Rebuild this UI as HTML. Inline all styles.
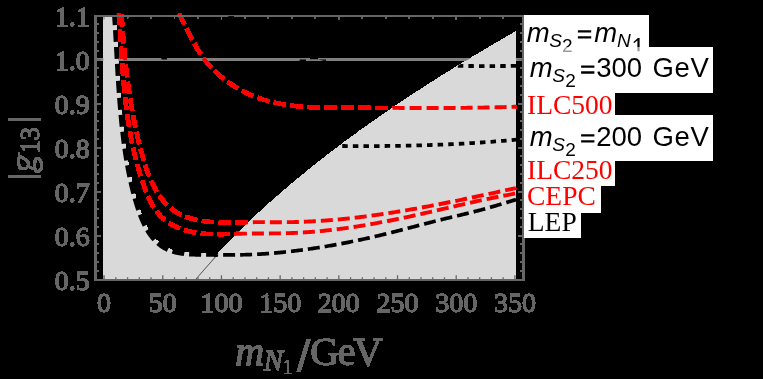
<!DOCTYPE html>
<html><head><meta charset="utf-8"><title>plot</title><style>html,body{margin:0;padding:0;background:#000;}svg{display:block;}text{white-space:pre;}</style></head><body>
<svg width="763" height="379" viewBox="0 0 763 379">
<rect width="763" height="379" fill="#000"/>
<defs><filter id="ad" filterUnits="userSpaceOnUse" x="0" y="0" width="763" height="379" color-interpolation-filters="sRGB"><feComponentTransfer><feFuncA type="linear" slope="80" intercept="-1.6"/></feComponentTransfer></filter><clipPath id="pc"><rect x="94" y="13" width="431" height="268"/></clipPath><clipPath id="rr"><path d="M195.11 279.93 L196.18 278.64 L197.25 277.35 L198.33 276.07 L199.40 274.80 L200.47 273.53 L201.55 272.27 L202.62 271.02 L203.69 269.78 L204.76 268.54 L205.84 267.31 L206.91 266.08 L207.98 264.86 L209.06 263.65 L210.13 262.44 L211.20 261.24 L212.28 260.05 L213.35 258.86 L214.42 257.68 L215.50 256.50 L216.57 255.33 L217.64 254.16 L218.72 253.00 L219.79 251.85 L220.86 250.70 L221.94 249.56 L223.01 248.42 L224.08 247.28 L225.15 246.16 L226.23 245.03 L227.30 243.91 L228.37 242.80 L229.45 241.69 L230.52 240.59 L231.59 239.49 L232.67 238.39 L233.74 237.30 L234.81 236.22 L235.89 235.13 L236.96 234.06 L238.03 232.98 L239.11 231.92 L240.18 230.85 L241.25 229.79 L242.33 228.74 L243.40 227.68 L244.47 226.64 L245.54 225.59 L246.62 224.55 L247.69 223.52 L248.76 222.48 L249.84 221.46 L250.91 220.43 L251.98 219.41 L253.06 218.39 L254.13 217.38 L255.20 216.37 L256.28 215.37 L257.35 214.36 L258.42 213.36 L259.50 212.37 L260.57 211.38 L261.64 210.39 L262.72 209.40 L263.79 208.42 L264.86 207.44 L265.93 206.47 L267.01 205.49 L268.08 204.52 L269.15 203.56 L270.23 202.60 L271.30 201.64 L272.37 200.68 L273.45 199.73 L274.52 198.78 L275.59 197.83 L276.67 196.88 L277.74 195.94 L278.81 195.00 L279.89 194.07 L280.96 193.14 L282.03 192.21 L283.11 191.28 L284.18 190.35 L285.25 189.43 L286.32 188.51 L287.40 187.60 L288.47 186.68 L289.54 185.77 L290.62 184.86 L291.69 183.96 L292.76 183.05 L293.84 182.15 L294.91 181.26 L295.98 180.36 L297.06 179.47 L298.13 178.58 L299.20 177.69 L300.28 176.80 L301.35 175.92 L302.42 175.04 L303.49 174.16 L304.57 173.28 L305.64 172.41 L306.71 171.54 L307.79 170.67 L308.86 169.80 L309.93 168.94 L311.01 168.08 L312.08 167.22 L313.15 166.36 L314.23 165.50 L315.30 164.65 L316.37 163.80 L317.45 162.95 L318.52 162.10 L319.59 161.26 L320.67 160.41 L321.74 159.57 L322.81 158.73 L323.88 157.90 L324.96 157.06 L326.03 156.23 L327.10 155.40 L328.18 154.57 L329.25 153.74 L330.32 152.92 L331.40 152.10 L332.47 151.28 L333.54 150.46 L334.62 149.64 L335.69 148.83 L336.76 148.01 L337.84 147.20 L338.91 146.39 L339.98 145.58 L341.06 144.78 L342.13 143.98 L343.20 143.17 L344.27 142.37 L345.35 141.57 L346.42 140.78 L347.49 139.98 L348.57 139.19 L349.64 138.40 L350.71 137.61 L351.79 136.82 L352.86 136.03 L353.93 135.25 L355.01 134.47 L356.08 133.69 L357.15 132.91 L358.23 132.13 L359.30 131.35 L360.37 130.58 L361.45 129.81 L362.52 129.03 L363.59 128.26 L364.66 127.50 L365.74 126.73 L366.81 125.96 L367.88 125.20 L368.96 124.44 L370.03 123.68 L371.10 122.92 L372.18 122.16 L373.25 121.41 L374.32 120.65 L375.40 119.90 L376.47 119.15 L377.54 118.40 L378.62 117.65 L379.69 116.90 L380.76 116.16 L381.84 115.41 L382.91 114.67 L383.98 113.93 L385.05 113.19 L386.13 112.45 L387.20 111.71 L388.27 110.98 L389.35 110.25 L390.42 109.51 L391.49 108.78 L392.57 108.05 L393.64 107.32 L394.71 106.60 L395.79 105.87 L396.86 105.14 L397.93 104.42 L399.01 103.70 L400.08 102.98 L401.15 102.26 L402.23 101.54 L403.30 100.82 L404.37 100.11 L405.44 99.40 L406.52 98.68 L407.59 97.97 L408.66 97.26 L409.74 96.55 L410.81 95.84 L411.88 95.14 L412.96 94.43 L414.03 93.73 L415.10 93.02 L416.18 92.32 L417.25 91.62 L418.32 90.92 L419.40 90.22 L420.47 89.53 L421.54 88.83 L422.62 88.14 L423.69 87.44 L424.76 86.75 L425.83 86.06 L426.91 85.37 L427.98 84.68 L429.05 83.99 L430.13 83.31 L431.20 82.62 L432.27 81.94 L433.35 81.25 L434.42 80.57 L435.49 79.89 L436.57 79.21 L437.64 78.53 L438.71 77.85 L439.79 77.18 L440.86 76.50 L441.93 75.83 L443.01 75.15 L444.08 74.48 L445.15 73.81 L446.22 73.14 L447.30 72.47 L448.37 71.80 L449.44 71.14 L450.52 70.47 L451.59 69.80 L452.66 69.14 L453.74 68.48 L454.81 67.82 L455.88 67.16 L456.96 66.50 L458.03 65.84 L459.10 65.18 L460.18 64.52 L461.25 63.87 L462.32 63.21 L463.40 62.56 L464.47 61.90 L465.54 61.25 L466.61 60.60 L467.69 59.95 L468.76 59.30 L469.83 58.65 L470.91 58.01 L471.98 57.36 L473.05 56.71 L474.13 56.07 L475.20 55.43 L476.27 54.78 L477.35 54.14 L478.42 53.50 L479.49 52.86 L480.57 52.22 L481.64 51.59 L482.71 50.95 L483.79 50.31 L484.86 49.68 L485.93 49.04 L487.00 48.41 L488.08 47.78 L489.15 47.14 L490.22 46.51 L491.30 45.88 L492.37 45.26 L493.44 44.63 L494.52 44.00 L495.59 43.37 L496.66 42.75 L497.74 42.12 L498.81 41.50 L499.88 40.88 L500.96 40.25 L502.03 39.63 L503.10 39.01 L504.17 38.39 L505.25 37.77 L506.32 37.16 L507.39 36.54 L508.47 35.92 L509.54 35.31 L510.61 34.69 L511.69 34.08 L512.76 33.46 L513.83 32.85 L514.91 32.24 L515.98 31.63 L516.00 280.00 L195.10 280.00Z"/></clipPath><clipPath id="nl"><rect x="90" y="0" width="127" height="300"/></clipPath></defs>
<g filter="url(#ad)">
<g clip-path="url(#pc)">
<rect x="95" y="58.5" width="428" height="2" fill="#808080"/>
<path d="M161.5 57.8h5.5v1.6h-5.5zM299.7 59.4h6.3v1.8h-6.3zM310 57.8h8v1.5h-8zM318 59.6l8 0v1.5z" fill="#000"/>
<path d="M114.18 15.40 L114.27 16.75 L114.36 18.10 L114.45 19.44 L114.53 20.79 L114.62 22.14 L114.70 23.49 L114.79 24.84 L114.87 26.18 L114.95 27.53 L115.04 28.88 L115.12 30.23 L115.20 31.58 L115.28 32.93 L115.35 34.29 L115.43 35.64 L115.51 36.99 L115.59 38.34 L115.67 39.69 L115.74 41.04 L115.82 42.40 L115.90 43.75 L115.97 45.10 L116.05 46.46 L116.12 47.81 L116.20 49.16 L116.27 50.52 L116.35 51.87 L116.42 53.22 L116.50 54.58 L116.57 55.93 L116.65 57.29 L116.73 58.64 L116.80 60.00 L116.88 61.35 L116.96 62.71 L117.03 64.06 L117.11 65.42 L117.19 66.77 L117.27 68.13 L117.35 69.48 L117.43 70.84 L117.51 72.19 L117.59 73.55 L117.67 74.90 L117.75 76.26 L117.84 77.61 L117.92 78.97 L118.00 80.32 L118.09 81.68 L118.18 83.03 L118.27 84.38 L118.35 85.74 L118.44 87.09 L118.54 88.45 L118.63 89.80 L118.72 91.16 L118.82 92.51 L118.91 93.86 L119.01 95.22 L119.11 96.57 L119.21 97.92 L119.31 99.27 L119.42 100.63 L119.52 101.98 L119.63 103.33 L119.74 104.68 L119.85 106.04 L119.96 107.39 L120.08 108.74 L120.19 110.09 L120.31 111.44 L120.43 112.79 L120.55 114.14 L120.67 115.49 L120.80 116.84 L120.93 118.19 L121.06 119.53 L121.19 120.88 L121.32 122.23 L121.46 123.58 L121.60 124.92 L121.74 126.27 L121.89 127.61 L122.03 128.96 L122.18 130.31 L122.33 131.65 L122.49 132.99 L122.64 134.34 L122.80 135.68 L122.96 137.02 L123.13 138.36 L123.30 139.71 L123.47 141.05 L123.64 142.39 L123.82 143.73 L124.00 145.07 L124.18 146.40 L124.36 147.74 L124.55 149.08 L124.75 150.42 L124.94 151.75 L125.14 153.09 L125.35 154.42 L125.55 155.76 L125.76 157.09 L125.98 158.42 L126.20 159.75 L126.42 161.09 L126.65 162.42 L126.88 163.75 L127.11 165.08 L127.35 166.40 L127.60 167.73 L127.84 169.06 L128.10 170.39 L128.35 171.71 L128.62 173.04 L128.88 174.36 L129.15 175.68 L129.43 177.00 L129.71 178.33 L130.00 179.65 L130.29 180.97 L130.59 182.29 L130.89 183.60 L131.20 184.92 L131.51 186.24 L131.83 187.55 L132.15 188.87 L132.48 190.18 L132.82 191.49 L133.16 192.80 L133.50 194.12 L133.86 195.43 L134.22 196.73 L134.58 198.04 L134.95 199.35 L135.33 200.65 L135.71 201.96 L136.10 203.26 L136.50 204.57 L136.90 205.87 L137.31 207.17 L137.73 208.47 L138.16 209.76 L138.60 211.05 L139.05 212.34 L139.51 213.63 L139.98 214.91 L140.46 216.18 L140.96 217.45 L141.47 218.72 L142.00 219.97 L142.55 221.23 L143.11 222.47 L143.68 223.71 L144.28 224.93 L144.89 226.15 L145.53 227.36 L146.18 228.56 L146.86 229.75 L147.55 230.93 L148.27 232.10 L149.02 233.25 L149.78 234.38 L150.57 235.49 L151.39 236.58 L152.23 237.65 L153.09 238.69 L153.99 239.70 L154.91 240.69 L155.86 241.65 L156.83 242.57 L157.83 243.46 L158.86 244.31 L159.92 245.14 L160.99 245.92 L162.09 246.67 L163.21 247.38 L164.35 248.06 L165.51 248.70 L166.69 249.29 L167.89 249.85 L169.10 250.36 L170.33 250.84 L171.58 251.28 L172.84 251.68 L174.11 252.05 L175.39 252.38 L176.69 252.69 L178.00 252.96 L179.32 253.21 L180.65 253.43 L181.99 253.62 L183.34 253.79 L184.69 253.94 L186.05 254.07 L187.42 254.18 L188.79 254.27 L190.17 254.35 L191.55 254.42 L192.93 254.47 L194.32 254.51 L195.71 254.55 L197.10 254.57 L198.49 254.59 L199.88 254.61 L201.26 254.63 L202.65 254.64 L204.03 254.65 L205.41 254.67 L206.78 254.69 L208.16 254.70 L209.53 254.72 L210.90 254.74 L212.26 254.75 L213.63 254.77 L214.99 254.79 L216.35 254.80" fill="none" stroke="#d9d9d9" stroke-width="3" stroke-linejoin="round"/>
<path d="M103.40 15.00 L114.18 15.40 L114.27 16.75 L114.36 18.10 L114.45 19.44 L114.53 20.79 L114.62 22.14 L114.70 23.49 L114.79 24.84 L114.87 26.18 L114.95 27.53 L115.04 28.88 L115.12 30.23 L115.20 31.58 L115.28 32.93 L115.35 34.29 L115.43 35.64 L115.51 36.99 L115.59 38.34 L115.67 39.69 L115.74 41.04 L115.82 42.40 L115.90 43.75 L115.97 45.10 L116.05 46.46 L116.12 47.81 L116.20 49.16 L116.27 50.52 L116.35 51.87 L116.42 53.22 L116.50 54.58 L116.57 55.93 L116.65 57.29 L116.73 58.64 L116.80 60.00 L116.88 61.35 L116.96 62.71 L117.03 64.06 L117.11 65.42 L117.19 66.77 L117.27 68.13 L117.35 69.48 L117.43 70.84 L117.51 72.19 L117.59 73.55 L117.67 74.90 L117.75 76.26 L117.84 77.61 L117.92 78.97 L118.00 80.32 L118.09 81.68 L118.18 83.03 L118.27 84.38 L118.35 85.74 L118.44 87.09 L118.54 88.45 L118.63 89.80 L118.72 91.16 L118.82 92.51 L118.91 93.86 L119.01 95.22 L119.11 96.57 L119.21 97.92 L119.31 99.27 L119.42 100.63 L119.52 101.98 L119.63 103.33 L119.74 104.68 L119.85 106.04 L119.96 107.39 L120.08 108.74 L120.19 110.09 L120.31 111.44 L120.43 112.79 L120.55 114.14 L120.67 115.49 L120.80 116.84 L120.93 118.19 L121.06 119.53 L121.19 120.88 L121.32 122.23 L121.46 123.58 L121.60 124.92 L121.74 126.27 L121.89 127.61 L122.03 128.96 L122.18 130.31 L122.33 131.65 L122.49 132.99 L122.64 134.34 L122.80 135.68 L122.96 137.02 L123.13 138.36 L123.30 139.71 L123.47 141.05 L123.64 142.39 L123.82 143.73 L124.00 145.07 L124.18 146.40 L124.36 147.74 L124.55 149.08 L124.75 150.42 L124.94 151.75 L125.14 153.09 L125.35 154.42 L125.55 155.76 L125.76 157.09 L125.98 158.42 L126.20 159.75 L126.42 161.09 L126.65 162.42 L126.88 163.75 L127.11 165.08 L127.35 166.40 L127.60 167.73 L127.84 169.06 L128.10 170.39 L128.35 171.71 L128.62 173.04 L128.88 174.36 L129.15 175.68 L129.43 177.00 L129.71 178.33 L130.00 179.65 L130.29 180.97 L130.59 182.29 L130.89 183.60 L131.20 184.92 L131.51 186.24 L131.83 187.55 L132.15 188.87 L132.48 190.18 L132.82 191.49 L133.16 192.80 L133.50 194.12 L133.86 195.43 L134.22 196.73 L134.58 198.04 L134.95 199.35 L135.33 200.65 L135.71 201.96 L136.10 203.26 L136.50 204.57 L136.90 205.87 L137.31 207.17 L137.73 208.47 L138.16 209.76 L138.60 211.05 L139.05 212.34 L139.51 213.63 L139.98 214.91 L140.46 216.18 L140.96 217.45 L141.47 218.72 L142.00 219.97 L142.55 221.23 L143.11 222.47 L143.68 223.71 L144.28 224.93 L144.89 226.15 L145.53 227.36 L146.18 228.56 L146.86 229.75 L147.55 230.93 L148.27 232.10 L149.02 233.25 L149.78 234.38 L150.57 235.49 L151.39 236.58 L152.23 237.65 L153.09 238.69 L153.99 239.70 L154.91 240.69 L155.86 241.65 L156.83 242.57 L157.83 243.46 L158.86 244.31 L159.92 245.14 L160.99 245.92 L162.09 246.67 L163.21 247.38 L164.35 248.06 L165.51 248.70 L166.69 249.29 L167.89 249.85 L169.10 250.36 L170.33 250.84 L171.58 251.28 L172.84 251.68 L174.11 252.05 L175.39 252.38 L176.69 252.69 L178.00 252.96 L179.32 253.21 L180.65 253.43 L181.99 253.62 L183.34 253.79 L184.69 253.94 L186.05 254.07 L187.42 254.18 L188.79 254.27 L190.17 254.35 L191.55 254.42 L192.93 254.47 L194.32 254.51 L195.71 254.55 L197.10 254.57 L198.49 254.59 L199.88 254.61 L201.26 254.63 L202.65 254.64 L204.03 254.65 L205.41 254.67 L206.78 254.69 L208.16 254.70 L209.53 254.72 L210.90 254.74 L212.26 254.75 L213.63 254.77 L214.99 254.79 L216.35 254.80 L195.10 280.00 L103.40 280.00Z" fill="#d9d9d9"/>
<path d="M195.11 279.93 L196.18 278.64 L197.25 277.35 L198.33 276.07 L199.40 274.80 L200.47 273.53 L201.55 272.27 L202.62 271.02 L203.69 269.78 L204.76 268.54 L205.84 267.31 L206.91 266.08 L207.98 264.86 L209.06 263.65 L210.13 262.44 L211.20 261.24 L212.28 260.05 L213.35 258.86 L214.42 257.68 L215.50 256.50 L216.57 255.33 L217.64 254.16 L218.72 253.00 L219.79 251.85 L220.86 250.70 L221.94 249.56 L223.01 248.42 L224.08 247.28 L225.15 246.16 L226.23 245.03 L227.30 243.91 L228.37 242.80 L229.45 241.69 L230.52 240.59 L231.59 239.49 L232.67 238.39 L233.74 237.30 L234.81 236.22 L235.89 235.13 L236.96 234.06 L238.03 232.98 L239.11 231.92 L240.18 230.85 L241.25 229.79 L242.33 228.74 L243.40 227.68 L244.47 226.64 L245.54 225.59 L246.62 224.55 L247.69 223.52 L248.76 222.48 L249.84 221.46 L250.91 220.43 L251.98 219.41 L253.06 218.39 L254.13 217.38 L255.20 216.37 L256.28 215.37 L257.35 214.36 L258.42 213.36 L259.50 212.37 L260.57 211.38 L261.64 210.39 L262.72 209.40 L263.79 208.42 L264.86 207.44 L265.93 206.47 L267.01 205.49 L268.08 204.52 L269.15 203.56 L270.23 202.60 L271.30 201.64 L272.37 200.68 L273.45 199.73 L274.52 198.78 L275.59 197.83 L276.67 196.88 L277.74 195.94 L278.81 195.00 L279.89 194.07 L280.96 193.14 L282.03 192.21 L283.11 191.28 L284.18 190.35 L285.25 189.43 L286.32 188.51 L287.40 187.60 L288.47 186.68 L289.54 185.77 L290.62 184.86 L291.69 183.96 L292.76 183.05 L293.84 182.15 L294.91 181.26 L295.98 180.36 L297.06 179.47 L298.13 178.58 L299.20 177.69 L300.28 176.80 L301.35 175.92 L302.42 175.04 L303.49 174.16 L304.57 173.28 L305.64 172.41 L306.71 171.54 L307.79 170.67 L308.86 169.80 L309.93 168.94 L311.01 168.08 L312.08 167.22 L313.15 166.36 L314.23 165.50 L315.30 164.65 L316.37 163.80 L317.45 162.95 L318.52 162.10 L319.59 161.26 L320.67 160.41 L321.74 159.57 L322.81 158.73 L323.88 157.90 L324.96 157.06 L326.03 156.23 L327.10 155.40 L328.18 154.57 L329.25 153.74 L330.32 152.92 L331.40 152.10 L332.47 151.28 L333.54 150.46 L334.62 149.64 L335.69 148.83 L336.76 148.01 L337.84 147.20 L338.91 146.39 L339.98 145.58 L341.06 144.78 L342.13 143.98 L343.20 143.17 L344.27 142.37 L345.35 141.57 L346.42 140.78 L347.49 139.98 L348.57 139.19 L349.64 138.40 L350.71 137.61 L351.79 136.82 L352.86 136.03 L353.93 135.25 L355.01 134.47 L356.08 133.69 L357.15 132.91 L358.23 132.13 L359.30 131.35 L360.37 130.58 L361.45 129.81 L362.52 129.03 L363.59 128.26 L364.66 127.50 L365.74 126.73 L366.81 125.96 L367.88 125.20 L368.96 124.44 L370.03 123.68 L371.10 122.92 L372.18 122.16 L373.25 121.41 L374.32 120.65 L375.40 119.90 L376.47 119.15 L377.54 118.40 L378.62 117.65 L379.69 116.90 L380.76 116.16 L381.84 115.41 L382.91 114.67 L383.98 113.93 L385.05 113.19 L386.13 112.45 L387.20 111.71 L388.27 110.98 L389.35 110.25 L390.42 109.51 L391.49 108.78 L392.57 108.05 L393.64 107.32 L394.71 106.60 L395.79 105.87 L396.86 105.14 L397.93 104.42 L399.01 103.70 L400.08 102.98 L401.15 102.26 L402.23 101.54 L403.30 100.82 L404.37 100.11 L405.44 99.40 L406.52 98.68 L407.59 97.97 L408.66 97.26 L409.74 96.55 L410.81 95.84 L411.88 95.14 L412.96 94.43 L414.03 93.73 L415.10 93.02 L416.18 92.32 L417.25 91.62 L418.32 90.92 L419.40 90.22 L420.47 89.53 L421.54 88.83 L422.62 88.14 L423.69 87.44 L424.76 86.75 L425.83 86.06 L426.91 85.37 L427.98 84.68 L429.05 83.99 L430.13 83.31 L431.20 82.62 L432.27 81.94 L433.35 81.25 L434.42 80.57 L435.49 79.89 L436.57 79.21 L437.64 78.53 L438.71 77.85 L439.79 77.18 L440.86 76.50 L441.93 75.83 L443.01 75.15 L444.08 74.48 L445.15 73.81 L446.22 73.14 L447.30 72.47 L448.37 71.80 L449.44 71.14 L450.52 70.47 L451.59 69.80 L452.66 69.14 L453.74 68.48 L454.81 67.82 L455.88 67.16 L456.96 66.50 L458.03 65.84 L459.10 65.18 L460.18 64.52 L461.25 63.87 L462.32 63.21 L463.40 62.56 L464.47 61.90 L465.54 61.25 L466.61 60.60 L467.69 59.95 L468.76 59.30 L469.83 58.65 L470.91 58.01 L471.98 57.36 L473.05 56.71 L474.13 56.07 L475.20 55.43 L476.27 54.78 L477.35 54.14 L478.42 53.50 L479.49 52.86 L480.57 52.22 L481.64 51.59 L482.71 50.95 L483.79 50.31 L484.86 49.68 L485.93 49.04 L487.00 48.41 L488.08 47.78 L489.15 47.14 L490.22 46.51 L491.30 45.88 L492.37 45.26 L493.44 44.63 L494.52 44.00 L495.59 43.37 L496.66 42.75 L497.74 42.12 L498.81 41.50 L499.88 40.88 L500.96 40.25 L502.03 39.63 L503.10 39.01 L504.17 38.39 L505.25 37.77 L506.32 37.16 L507.39 36.54 L508.47 35.92 L509.54 35.31 L510.61 34.69 L511.69 34.08 L512.76 33.46 L513.83 32.85 L514.91 32.24 L515.98 31.63 L516.00 280.00 L195.10 280.00Z" fill="#d9d9d9"/>
<line x1="195.1" y1="280" x2="216.2" y2="256.1" stroke="#4a4a4a" stroke-width="0.9"/>
<path d="M177.60 10.03 L177.97 10.77 L178.33 11.52 L178.70 12.26 L179.07 13.01 L179.43 13.76 L179.80 14.52 L180.16 15.27 L180.53 16.03 L180.89 16.78 L181.25 17.54 L181.62 18.31 L181.98 19.07 L182.35 19.83 L182.71 20.60 L183.08 21.36 L183.44 22.13 L183.81 22.90 L184.17 23.67 L184.54 24.44 L184.91 25.21 L185.28 25.98 L185.65 26.75 L186.02 27.52 L186.39 28.29 L186.76 29.06 L187.14 29.83 L187.52 30.60 L187.89 31.37 L188.27 32.14 L188.66 32.91 L189.04 33.68 L189.42 34.44 L189.81 35.21 L190.20 35.98 L190.59 36.74 L190.99 37.51 L191.39 38.27 L191.78 39.03 L192.19 39.79 L192.59 40.55 L193.00 41.30 L193.41 42.06 L193.82 42.81 L194.24 43.56 L194.66 44.31 L195.09 45.05 L195.51 45.80 L195.94 46.54 L196.38 47.28 L196.82 48.01 L197.26 48.75 L197.70 49.48 L198.15 50.20 L198.61 50.93 L199.07 51.65 L199.53 52.37 L200.00 53.08 L200.47 53.79 L200.94 54.50 L201.42 55.20 L201.91 55.90 L202.40 56.60 L202.90 57.29 L203.40 57.98 L203.90 58.66 L204.41 59.34 L204.93 60.02 L205.45 60.69 L205.98 61.35 L206.51 62.01 L207.05 62.67 L207.59 63.32 L208.14 63.97 L208.70 64.61 L209.26 65.25 L209.82 65.88 L210.39 66.51 L210.96 67.13 L211.54 67.75 L212.13 68.37 L212.72 68.98 L213.31 69.58 L213.91 70.18 L214.51 70.78 L215.12 71.37 L215.73 71.95 L216.35 72.54 L216.97 73.11 L217.60 73.68 L218.23 74.25 L218.87 74.81 L219.51 75.37 L220.15 75.92 L220.80 76.47 L221.45 77.01 L222.11 77.55 L222.77 78.09 L223.43 78.62 L224.10 79.14 L224.77 79.66 L225.45 80.17 L226.13 80.68 L226.81 81.19 L227.50 81.69 L228.19 82.18 L228.88 82.67 L229.58 83.15 L230.28 83.63 L230.99 84.11 L231.70 84.58 L232.41 85.04 L233.12 85.50 L233.84 85.96 L234.56 86.41 L235.29 86.85 L236.02 87.30 L236.75 87.73 L237.48 88.16 L238.22 88.59 L238.96 89.01 L239.70 89.42 L240.45 89.83 L241.20 90.24 L241.95 90.64 L242.70 91.03 L243.46 91.42 L244.22 91.81 L244.98 92.19 L245.75 92.56 L246.51 92.93 L247.28 93.30 L248.05 93.66 L248.83 94.01 L249.60 94.36 L250.38 94.70 L251.16 95.04 L251.94 95.38 L252.73 95.71 L253.51 96.03 L254.30 96.35 L255.09 96.66 L255.88 96.97 L256.68 97.27 L257.47 97.57 L258.27 97.86 L259.07 98.15 L259.87 98.43 L260.67 98.71 L261.47 98.98 L262.28 99.24 L263.08 99.51 L263.89 99.76 L264.70 100.01 L265.51 100.26 L266.32 100.50 L267.13 100.73 L267.94 100.96 L268.76 101.19 L269.57 101.41 L270.39 101.62 L271.21 101.83 L272.03 102.04 L272.85 102.24 L273.67 102.43 L274.49 102.62 L275.32 102.81 L276.14 102.99 L276.97 103.17 L277.79 103.34 L278.62 103.51 L279.45 103.68 L280.28 103.84 L281.11 103.99 L281.94 104.15 L282.78 104.29 L283.61 104.44 L284.44 104.58 L285.28 104.71 L286.12 104.85 L286.95 104.97 L287.79 105.10 L288.63 105.22 L289.47 105.34 L290.31 105.45 L291.15 105.56 L291.99 105.67 L292.83 105.77 L293.68 105.87 L294.52 105.97 L295.37 106.06 L296.21 106.15 L297.06 106.24 L297.91 106.32 L298.75 106.40 L299.60 106.48 L300.45 106.56 L301.30 106.63 L302.15 106.70 L303.00 106.77 L303.85 106.83 L304.70 106.89 L305.55 106.95 L306.40 107.01 L307.26 107.06 L308.11 107.11 L308.97 107.16 L309.82 107.21 L310.67 107.25 L311.53 107.29 L312.38 107.33 L313.24 107.37 L314.10 107.41 L314.95 107.44 L315.81 107.47 L316.67 107.50 L317.52 107.53 L318.38 107.56 L319.24 107.58 L320.10 107.60 L320.96 107.63 L321.82 107.65 L322.67 107.66 L323.53 107.68 L324.39 107.70 L325.25 107.71 L326.11 107.72 L326.97 107.74 L327.83 107.75 L328.69 107.76 L329.55 107.76 L330.41 107.77 L331.27 107.78 L332.13 107.78 L332.99 107.79 L333.85 107.79 L334.71 107.80 L335.57 107.80 L336.43 107.80 L337.29 107.80 L338.15 107.80 L339.01 107.80 L339.87 107.80 L340.73 107.80 L341.59 107.80 L342.45 107.80 L343.31 107.80 L344.17 107.80 L345.03 107.80 L345.89 107.80 L346.74 107.80 L347.60 107.79 L348.46 107.79 L349.32 107.79 L350.18 107.79 L351.03 107.79 L351.89 107.79 L352.75 107.79 L353.60 107.79 L354.46 107.79 L355.31 107.79 L356.17 107.79 L357.02 107.79 L357.88 107.79 L358.73 107.79 L359.59 107.80 L360.44 107.80 L361.30 107.80 L362.15 107.80 L363.01 107.80 L363.86 107.80 L364.71 107.80 L365.57 107.81 L366.42 107.81 L367.27 107.81 L368.12 107.81 L368.98 107.81 L369.83 107.82 L370.68 107.82 L371.53 107.82 L372.38 107.82 L373.23 107.83 L374.09 107.83 L374.94 107.83 L375.79 107.83 L376.64 107.84 L377.49 107.84 L378.34 107.84 L379.19 107.85 L380.04 107.85 L380.89 107.85 L381.74 107.86 L382.59 107.86 L383.44 107.86 L384.29 107.87 L385.14 107.87 L385.99 107.87 L386.83 107.87 L387.68 107.88 L388.53 107.88 L389.38 107.89 L390.23 107.89 L391.08 107.89 L391.93 107.90 L392.77 107.90 L393.62 107.90 L394.47 107.91 L395.32 107.91 L396.16 107.91 L397.01 107.92 L397.86 107.92 L398.71 107.92 L399.55 107.93 L400.40 107.93 L401.25 107.93 L402.10 107.94 L402.94 107.94 L403.79 107.94 L404.64 107.94 L405.48 107.95 L406.33 107.95 L407.18 107.95 L408.02 107.96 L408.87 107.96 L409.72 107.96 L410.56 107.96 L411.41 107.97 L412.25 107.97 L413.10 107.97 L413.95 107.97 L414.79 107.98 L415.64 107.98 L416.48 107.98 L417.33 107.98 L418.18 107.99 L419.02 107.99 L419.87 107.99 L420.72 107.99 L421.56 107.99 L422.41 107.99 L423.25 107.99 L424.10 108.00 L424.94 108.00 L425.79 108.00 L426.64 108.00 L427.48 108.00 L428.33 108.00 L429.17 108.00 L430.02 108.00 L430.87 108.00 L431.71 108.00 L432.56 108.00 L433.41 108.00 L434.25 108.00 L435.10 108.00 L435.94 108.00 L436.79 108.00 L437.64 107.99 L438.48 107.99 L439.33 107.99 L440.18 107.99 L441.02 107.99 L441.87 107.99 L442.72 107.98 L443.56 107.98 L444.41 107.98 L445.26 107.98 L446.10 107.97 L446.95 107.97 L447.80 107.97 L448.64 107.96 L449.49 107.96 L450.34 107.95 L451.19 107.95 L452.03 107.94 L452.88 107.94 L453.73 107.93 L454.58 107.93 L455.42 107.92 L456.27 107.92 L457.12 107.91 L457.97 107.91 L458.82 107.90 L459.67 107.89 L460.52 107.88 L461.36 107.88 L462.21 107.87 L463.06 107.86 L463.91 107.85 L464.76 107.85 L465.61 107.84 L466.46 107.83 L467.31 107.82 L468.16 107.81 L469.01 107.80 L469.86 107.79 L470.71 107.78 L471.56 107.77 L472.41 107.76 L473.26 107.75 L474.11 107.73 L474.96 107.72 L475.82 107.71 L476.67 107.70 L477.52 107.68 L478.37 107.67 L479.22 107.66 L480.08 107.64 L480.93 107.63 L481.78 107.61 L482.63 107.60 L483.49 107.58 L484.34 107.57 L485.19 107.55 L486.05 107.54 L486.90 107.52 L487.76 107.50 L488.61 107.48 L489.46 107.47 L490.32 107.45 L491.17 107.43 L492.03 107.41 L492.89 107.39 L493.74 107.37 L494.60 107.35 L495.45 107.33 L496.31 107.31 L497.17 107.29 L498.02 107.27 L498.88 107.24 L499.74 107.22 L500.60 107.20 L501.45 107.18 L502.31 107.15 L503.17 107.13 L504.03 107.10 L504.89 107.08 L505.75 107.05 L506.61 107.03 L507.47 107.00 L508.33 106.97 L509.19 106.95 L510.05 106.92 L510.91 106.89 L511.77 106.86 L512.64 106.83 L513.50 106.80 L514.36 106.77 L515.22 106.74 L516.09 106.71" fill="none" stroke="#ff0000" stroke-width="3.9" stroke-dasharray="12.00 5.00" stroke-dashoffset="13.28"/>
<path d="M118.58 10.02 L118.67 11.29 L118.76 12.57 L118.84 13.84 L118.93 15.12 L119.02 16.39 L119.11 17.67 L119.19 18.94 L119.28 20.22 L119.36 21.49 L119.45 22.77 L119.53 24.05 L119.61 25.33 L119.69 26.61 L119.78 27.88 L119.86 29.16 L119.94 30.44 L120.02 31.72 L120.10 33.00 L120.18 34.28 L120.26 35.56 L120.34 36.85 L120.42 38.13 L120.51 39.41 L120.59 40.69 L120.67 41.97 L120.75 43.26 L120.83 44.54 L120.91 45.82 L120.99 47.10 L121.08 48.39 L121.16 49.67 L121.25 50.95 L121.33 52.24 L121.41 53.52 L121.50 54.80 L121.59 56.09 L121.67 57.37 L121.76 58.66 L121.85 59.94 L121.94 61.22 L122.03 62.51 L122.13 63.79 L122.22 65.07 L122.31 66.36 L122.41 67.64 L122.51 68.93 L122.60 70.21 L122.70 71.49 L122.81 72.78 L122.91 74.06 L123.01 75.34 L123.12 76.63 L123.23 77.91 L123.33 79.19 L123.45 80.47 L123.56 81.76 L123.67 83.04 L123.79 84.32 L123.91 85.60 L124.03 86.88 L124.15 88.17 L124.27 89.45 L124.40 90.73 L124.53 92.01 L124.66 93.29 L124.79 94.57 L124.93 95.85 L125.07 97.12 L125.21 98.40 L125.35 99.68 L125.49 100.96 L125.64 102.24 L125.79 103.51 L125.95 104.79 L126.10 106.06 L126.26 107.34 L126.42 108.61 L126.59 109.89 L126.76 111.16 L126.93 112.44 L127.10 113.71 L127.28 114.98 L127.46 116.25 L127.64 117.52 L127.83 118.79 L128.02 120.06 L128.21 121.33 L128.41 122.60 L128.61 123.87 L128.81 125.13 L129.02 126.40 L129.23 127.67 L129.44 128.93 L129.66 130.20 L129.88 131.46 L130.11 132.72 L130.34 133.98 L130.57 135.24 L130.81 136.50 L131.05 137.76 L131.30 139.02 L131.55 140.28 L131.80 141.54 L132.06 142.79 L132.32 144.05 L132.59 145.30 L132.86 146.56 L133.14 147.81 L133.42 149.06 L133.71 150.31 L134.00 151.56 L134.29 152.81 L134.59 154.06 L134.89 155.30 L135.20 156.55 L135.51 157.79 L135.83 159.03 L136.15 160.28 L136.48 161.52 L136.81 162.75 L137.15 163.99 L137.49 165.23 L137.84 166.46 L138.19 167.70 L138.55 168.93 L138.91 170.16 L139.27 171.39 L139.64 172.61 L140.02 173.84 L140.40 175.06 L140.78 176.28 L141.17 177.50 L141.56 178.72 L141.96 179.93 L142.37 181.14 L142.77 182.35 L143.19 183.56 L143.60 184.77 L144.03 185.97 L144.46 187.18 L144.89 188.38 L145.34 189.58 L145.79 190.79 L146.26 192.00 L146.74 193.20 L147.24 194.41 L147.75 195.61 L148.27 196.81 L148.80 198.01 L149.35 199.20 L149.92 200.38 L150.51 201.55 L151.11 202.71 L151.72 203.86 L152.36 205.00 L153.02 206.12 L153.69 207.23 L154.39 208.32 L155.10 209.40 L155.84 210.46 L156.60 211.49 L157.38 212.51 L158.19 213.50 L159.01 214.47 L159.87 215.41 L160.74 216.33 L161.65 217.22 L162.57 218.09 L163.52 218.92 L164.50 219.73 L165.49 220.52 L166.51 221.28 L167.55 222.01 L168.60 222.72 L169.68 223.40 L170.77 224.06 L171.88 224.69 L173.00 225.30 L174.14 225.89 L175.29 226.45 L176.46 226.99 L177.64 227.51 L178.83 228.00 L180.03 228.48 L181.24 228.93 L182.46 229.35 L183.68 229.76 L184.92 230.15 L186.16 230.51 L187.40 230.86 L188.65 231.18 L189.90 231.49 L191.16 231.77 L192.42 232.04 L193.68 232.28 L194.94 232.51 L196.20 232.72 L197.47 232.92 L198.73 233.10 L200.00 233.26 L201.27 233.41 L202.55 233.54 L203.82 233.66 L205.10 233.77 L206.37 233.86 L207.65 233.94 L208.93 234.01 L210.21 234.07 L211.49 234.12 L212.78 234.16 L214.06 234.19 L215.34 234.21 L216.63 234.22 L217.92 234.22 L219.20 234.22 L220.49 234.21 L221.78 234.20 L223.07 234.18 L224.36 234.16 L225.65 234.13 L226.94 234.10 L228.23 234.06 L229.52 234.03 L230.81 233.99 L232.11 233.95 L233.40 233.91 L234.69 233.87 L235.98 233.83 L237.27 233.79 L238.56 233.75 L239.85 233.72 L241.14 233.69 L242.43 233.66 L243.72 233.64 L245.01 233.61 L246.30 233.59 L247.59 233.57 L248.88 233.56 L250.16 233.54 L251.45 233.53 L252.74 233.52 L254.03 233.51 L255.31 233.50 L256.60 233.49 L257.88 233.48 L259.17 233.48 L260.45 233.47 L261.74 233.47 L263.02 233.46 L264.31 233.46 L265.59 233.45 L266.88 233.45 L268.16 233.44 L269.44 233.43 L270.73 233.42 L272.01 233.42 L273.29 233.40 L274.58 233.39 L275.86 233.38 L277.14 233.37 L278.42 233.35 L279.71 233.33 L280.99 233.31 L282.27 233.29 L283.55 233.26 L284.83 233.23 L286.11 233.20 L287.39 233.17 L288.67 233.13 L289.95 233.09 L291.23 233.04 L292.51 232.99 L293.80 232.94 L295.08 232.89 L296.36 232.83 L297.63 232.76 L298.91 232.70 L300.19 232.63 L301.47 232.56 L302.75 232.48 L304.03 232.40 L305.31 232.32 L306.59 232.23 L307.87 232.14 L309.15 232.05 L310.42 231.95 L311.70 231.85 L312.98 231.75 L314.26 231.65 L315.53 231.54 L316.81 231.43 L318.09 231.31 L319.37 231.19 L320.64 231.07 L321.92 230.95 L323.20 230.82 L324.47 230.69 L325.75 230.56 L327.02 230.43 L328.30 230.29 L329.57 230.15 L330.85 230.00 L332.12 229.85 L333.40 229.71 L334.67 229.55 L335.95 229.40 L337.22 229.24 L338.49 229.08 L339.77 228.92 L341.04 228.75 L342.31 228.58 L343.59 228.41 L344.86 228.24 L346.13 228.06 L347.40 227.88 L348.67 227.70 L349.95 227.52 L351.22 227.33 L352.49 227.14 L353.76 226.95 L355.03 226.76 L356.30 226.56 L357.57 226.37 L358.84 226.17 L360.11 225.96 L361.38 225.76 L362.64 225.55 L363.91 225.34 L365.18 225.13 L366.45 224.92 L367.72 224.70 L368.98 224.49 L370.25 224.27 L371.52 224.04 L372.78 223.82 L374.05 223.60 L375.31 223.37 L376.58 223.14 L377.84 222.91 L379.11 222.67 L380.37 222.44 L381.64 222.20 L382.90 221.96 L384.16 221.72 L385.43 221.48 L386.69 221.24 L387.95 220.99 L389.21 220.74 L390.47 220.49 L391.73 220.24 L393.00 219.99 L394.26 219.74 L395.52 219.48 L396.78 219.22 L398.03 218.96 L399.29 218.70 L400.55 218.44 L401.81 218.18 L403.07 217.91 L404.33 217.65 L405.58 217.38 L406.84 217.11 L408.09 216.84 L409.35 216.57 L410.61 216.30 L411.86 216.02 L413.12 215.75 L414.37 215.47 L415.62 215.20 L416.88 214.92 L418.13 214.64 L419.38 214.36 L420.64 214.08 L421.89 213.80 L423.14 213.51 L424.39 213.23 L425.64 212.95 L426.90 212.66 L428.15 212.38 L429.40 212.09 L430.65 211.80 L431.90 211.52 L433.15 211.23 L434.40 210.94 L435.65 210.65 L436.90 210.36 L438.15 210.07 L439.40 209.79 L440.65 209.50 L441.90 209.21 L443.15 208.92 L444.40 208.63 L445.65 208.34 L446.90 208.05 L448.15 207.76 L449.40 207.47 L450.65 207.18 L451.90 206.89 L453.15 206.60 L454.40 206.31 L455.65 206.03 L456.90 205.74 L458.15 205.45 L459.40 205.16 L460.65 204.88 L461.90 204.59 L463.15 204.31 L464.40 204.02 L465.65 203.74 L466.90 203.45 L468.15 203.17 L469.41 202.89 L470.66 202.61 L471.91 202.33 L473.16 202.05 L474.42 201.77 L475.67 201.50 L476.92 201.22 L478.18 200.95 L479.43 200.68 L480.68 200.40 L481.94 200.13 L483.19 199.86 L484.45 199.60 L485.70 199.33 L486.96 199.06 L488.22 198.80 L489.47 198.54 L490.73 198.28 L491.99 198.02 L493.25 197.76 L494.51 197.51 L495.77 197.26 L497.03 197.00 L498.29 196.75 L499.55 196.51 L500.81 196.26 L502.07 196.02 L503.34 195.77 L504.60 195.53 L505.86 195.30 L507.13 195.06 L508.39 194.83 L509.66 194.60 L510.92 194.37 L512.19 194.14 L513.46 193.92 L514.73 193.70 L516.00 193.48" fill="none" stroke="#ff0000" stroke-width="3.9" stroke-dasharray="12.00 5.00" stroke-dashoffset="14.15"/>
<path d="M121.40 10.01 L121.47 11.25 L121.54 12.49 L121.61 13.73 L121.68 14.97 L121.76 16.21 L121.83 17.45 L121.90 18.70 L121.98 19.94 L122.06 21.18 L122.14 22.42 L122.22 23.66 L122.30 24.90 L122.38 26.15 L122.47 27.39 L122.55 28.63 L122.64 29.87 L122.73 31.11 L122.82 32.36 L122.91 33.60 L123.00 34.84 L123.10 36.08 L123.19 37.32 L123.29 38.56 L123.39 39.81 L123.49 41.05 L123.59 42.29 L123.70 43.53 L123.80 44.77 L123.91 46.01 L124.02 47.25 L124.13 48.49 L124.24 49.74 L124.35 50.98 L124.47 52.22 L124.59 53.46 L124.70 54.70 L124.83 55.94 L124.95 57.18 L125.07 58.42 L125.20 59.66 L125.33 60.90 L125.46 62.14 L125.59 63.37 L125.72 64.61 L125.86 65.85 L125.99 67.09 L126.13 68.33 L126.27 69.57 L126.42 70.80 L126.56 72.04 L126.71 73.28 L126.86 74.52 L127.01 75.75 L127.17 76.99 L127.32 78.22 L127.48 79.46 L127.64 80.70 L127.80 81.93 L127.97 83.17 L128.13 84.40 L128.30 85.63 L128.47 86.87 L128.65 88.10 L128.82 89.34 L129.00 90.57 L129.18 91.80 L129.36 93.03 L129.55 94.26 L129.74 95.50 L129.93 96.73 L130.12 97.96 L130.31 99.19 L130.51 100.42 L130.71 101.65 L130.91 102.87 L131.12 104.10 L131.32 105.33 L131.53 106.56 L131.74 107.78 L131.96 109.01 L132.18 110.24 L132.40 111.46 L132.62 112.69 L132.84 113.91 L133.07 115.14 L133.30 116.36 L133.54 117.58 L133.77 118.80 L134.01 120.03 L134.25 121.25 L134.50 122.47 L134.75 123.69 L135.00 124.91 L135.25 126.13 L135.50 127.35 L135.76 128.56 L136.02 129.78 L136.29 131.00 L136.56 132.21 L136.83 133.43 L137.10 134.64 L137.38 135.86 L137.66 137.07 L137.94 138.28 L138.22 139.50 L138.51 140.71 L138.80 141.92 L139.10 143.13 L139.40 144.34 L139.70 145.55 L140.00 146.76 L140.31 147.96 L140.62 149.17 L140.93 150.38 L141.25 151.58 L141.57 152.79 L141.90 153.99 L142.22 155.19 L142.55 156.39 L142.89 157.59 L143.23 158.79 L143.58 159.99 L143.93 161.19 L144.28 162.38 L144.65 163.57 L145.02 164.76 L145.40 165.95 L145.78 167.13 L146.18 168.31 L146.58 169.49 L146.99 170.66 L147.41 171.84 L147.84 173.00 L148.28 174.17 L148.73 175.33 L149.19 176.48 L149.66 177.63 L150.15 178.78 L150.64 179.92 L151.15 181.06 L151.67 182.19 L152.21 183.31 L152.76 184.44 L153.32 185.55 L153.90 186.66 L154.49 187.76 L155.10 188.86 L155.72 189.95 L156.36 191.03 L157.02 192.10 L157.69 193.17 L158.37 194.22 L159.07 195.26 L159.79 196.29 L160.53 197.30 L161.28 198.31 L162.05 199.29 L162.83 200.27 L163.63 201.22 L164.45 202.16 L165.28 203.08 L166.13 203.99 L167.00 204.87 L167.89 205.73 L168.79 206.57 L169.71 207.39 L170.65 208.19 L171.61 208.96 L172.58 209.71 L173.57 210.43 L174.58 211.13 L175.61 211.80 L176.66 212.44 L177.72 213.06 L178.80 213.65 L179.89 214.22 L181.00 214.76 L182.12 215.28 L183.26 215.77 L184.41 216.25 L185.57 216.70 L186.74 217.13 L187.92 217.53 L189.12 217.92 L190.32 218.29 L191.52 218.64 L192.74 218.97 L193.96 219.28 L195.19 219.57 L196.43 219.84 L197.66 220.10 L198.91 220.34 L200.15 220.57 L201.40 220.78 L202.65 220.98 L203.90 221.16 L205.15 221.33 L206.40 221.49 L207.65 221.63 L208.90 221.76 L210.15 221.88 L211.39 221.99 L212.64 222.09 L213.89 222.18 L215.14 222.26 L216.38 222.33 L217.63 222.39 L218.88 222.44 L220.12 222.48 L221.37 222.52 L222.61 222.54 L223.85 222.57 L225.10 222.58 L226.34 222.59 L227.59 222.59 L228.83 222.59 L230.07 222.59 L231.32 222.58 L232.56 222.56 L233.80 222.55 L235.04 222.53 L236.29 222.50 L237.53 222.48 L238.77 222.45 L240.01 222.43 L241.26 222.40 L242.50 222.37 L243.74 222.34 L244.98 222.32 L246.22 222.29 L247.47 222.27 L248.71 222.25 L249.95 222.23 L251.19 222.21 L252.43 222.20 L253.68 222.18 L254.92 222.17 L256.16 222.17 L257.40 222.16 L258.65 222.16 L259.89 222.16 L261.13 222.16 L262.37 222.16 L263.62 222.16 L264.86 222.17 L266.10 222.17 L267.35 222.17 L268.59 222.18 L269.83 222.18 L271.08 222.19 L272.32 222.19 L273.56 222.20 L274.81 222.20 L276.05 222.21 L277.30 222.21 L278.54 222.21 L279.79 222.21 L281.03 222.21 L282.28 222.21 L283.52 222.20 L284.77 222.19 L286.01 222.18 L287.26 222.17 L288.50 222.16 L289.75 222.14 L291.00 222.12 L292.24 222.10 L293.49 222.08 L294.74 222.05 L295.99 222.02 L297.23 221.98 L298.48 221.95 L299.73 221.91 L300.97 221.86 L302.22 221.82 L303.47 221.77 L304.72 221.72 L305.96 221.67 L307.21 221.61 L308.45 221.56 L309.70 221.50 L310.95 221.43 L312.19 221.37 L313.44 221.30 L314.68 221.23 L315.93 221.16 L317.17 221.08 L318.41 221.00 L319.66 220.92 L320.90 220.84 L322.14 220.76 L323.39 220.67 L324.63 220.58 L325.87 220.49 L327.11 220.39 L328.36 220.30 L329.60 220.20 L330.84 220.10 L332.08 220.00 L333.32 219.89 L334.56 219.78 L335.80 219.67 L337.04 219.56 L338.28 219.45 L339.52 219.33 L340.76 219.21 L342.00 219.09 L343.24 218.97 L344.48 218.85 L345.72 218.72 L346.95 218.59 L348.19 218.46 L349.43 218.33 L350.67 218.19 L351.90 218.05 L353.14 217.92 L354.38 217.78 L355.61 217.63 L356.85 217.49 L358.08 217.34 L359.32 217.19 L360.56 217.04 L361.79 216.89 L363.03 216.74 L364.26 216.58 L365.50 216.42 L366.73 216.26 L367.96 216.10 L369.20 215.94 L370.43 215.77 L371.66 215.61 L372.90 215.44 L374.13 215.27 L375.36 215.10 L376.60 214.92 L377.83 214.75 L379.06 214.57 L380.29 214.39 L381.52 214.21 L382.75 214.03 L383.99 213.85 L385.22 213.66 L386.45 213.48 L387.68 213.29 L388.91 213.10 L390.14 212.91 L391.37 212.72 L392.60 212.52 L393.83 212.33 L395.06 212.13 L396.29 211.93 L397.51 211.73 L398.74 211.53 L399.97 211.33 L401.20 211.13 L402.43 210.92 L403.66 210.72 L404.88 210.51 L406.11 210.30 L407.34 210.09 L408.57 209.88 L409.79 209.66 L411.02 209.45 L412.25 209.23 L413.47 209.02 L414.70 208.80 L415.92 208.58 L417.15 208.36 L418.38 208.14 L419.60 207.92 L420.83 207.69 L422.05 207.47 L423.28 207.24 L424.50 207.02 L425.73 206.79 L426.95 206.56 L428.17 206.33 L429.40 206.10 L430.62 205.87 L431.85 205.63 L433.07 205.40 L434.29 205.16 L435.52 204.93 L436.74 204.69 L437.96 204.45 L439.18 204.22 L440.41 203.98 L441.63 203.74 L442.85 203.50 L444.07 203.25 L445.30 203.01 L446.52 202.77 L447.74 202.52 L448.96 202.28 L450.18 202.03 L451.40 201.79 L452.62 201.54 L453.84 201.29 L455.07 201.04 L456.29 200.79 L457.51 200.54 L458.73 200.29 L459.95 200.04 L461.17 199.79 L462.39 199.54 L463.61 199.28 L464.83 199.03 L466.04 198.78 L467.26 198.52 L468.48 198.27 L469.70 198.01 L470.92 197.76 L472.14 197.50 L473.36 197.24 L474.58 196.98 L475.80 196.73 L477.01 196.47 L478.23 196.21 L479.45 195.95 L480.67 195.69 L481.88 195.43 L483.10 195.17 L484.32 194.91 L485.54 194.65 L486.75 194.39 L487.97 194.13 L489.19 193.87 L490.41 193.61 L491.62 193.34 L492.84 193.08 L494.06 192.82 L495.27 192.56 L496.49 192.29 L497.70 192.03 L498.92 191.77 L500.14 191.51 L501.35 191.24 L502.57 190.98 L503.78 190.72 L505.00 190.45 L506.21 190.19 L507.43 189.93 L508.64 189.66 L509.86 189.40 L511.08 189.14 L512.29 188.87 L513.50 188.61 L514.72 188.35 L515.93 188.08" fill="none" stroke="#ff0000" stroke-width="3.9" stroke-dasharray="12.00 5.00" stroke-dashoffset="12.77"/>
<path d="M113.81 10.02 L113.90 11.37 L114.00 12.71 L114.09 14.06 L114.18 15.40 L114.27 16.75 L114.36 18.10 L114.45 19.44 L114.53 20.79 L114.62 22.14 L114.70 23.49 L114.79 24.84 L114.87 26.18 L114.95 27.53 L115.04 28.88 L115.12 30.23 L115.20 31.58 L115.28 32.93 L115.35 34.29 L115.43 35.64 L115.51 36.99 L115.59 38.34 L115.67 39.69 L115.74 41.04 L115.82 42.40 L115.90 43.75 L115.97 45.10 L116.05 46.46 L116.12 47.81 L116.20 49.16 L116.27 50.52 L116.35 51.87 L116.42 53.22 L116.50 54.58 L116.57 55.93 L116.65 57.29 L116.73 58.64 L116.80 60.00 L116.88 61.35 L116.96 62.71 L117.03 64.06 L117.11 65.42 L117.19 66.77 L117.27 68.13 L117.35 69.48 L117.43 70.84 L117.51 72.19 L117.59 73.55 L117.67 74.90 L117.75 76.26 L117.84 77.61 L117.92 78.97 L118.00 80.32 L118.09 81.68 L118.18 83.03 L118.27 84.38 L118.35 85.74 L118.44 87.09 L118.54 88.45 L118.63 89.80 L118.72 91.16 L118.82 92.51 L118.91 93.86 L119.01 95.22 L119.11 96.57 L119.21 97.92 L119.31 99.27 L119.42 100.63 L119.52 101.98 L119.63 103.33 L119.74 104.68 L119.85 106.04 L119.96 107.39 L120.08 108.74 L120.19 110.09 L120.31 111.44 L120.43 112.79 L120.55 114.14 L120.67 115.49 L120.80 116.84 L120.93 118.19 L121.06 119.53 L121.19 120.88 L121.32 122.23 L121.46 123.58 L121.60 124.92 L121.74 126.27 L121.89 127.61 L122.03 128.96 L122.18 130.31 L122.33 131.65 L122.49 132.99 L122.64 134.34 L122.80 135.68 L122.96 137.02 L123.13 138.36 L123.30 139.71 L123.47 141.05 L123.64 142.39 L123.82 143.73 L124.00 145.07 L124.18 146.40 L124.36 147.74 L124.55 149.08 L124.75 150.42 L124.94 151.75 L125.14 153.09 L125.35 154.42 L125.55 155.76 L125.76 157.09 L125.98 158.42 L126.20 159.75 L126.42 161.09 L126.65 162.42 L126.88 163.75 L127.11 165.08 L127.35 166.40 L127.60 167.73 L127.84 169.06 L128.10 170.39 L128.35 171.71 L128.62 173.04 L128.88 174.36 L129.15 175.68 L129.43 177.00 L129.71 178.33 L130.00 179.65 L130.29 180.97 L130.59 182.29 L130.89 183.60 L131.20 184.92 L131.51 186.24 L131.83 187.55 L132.15 188.87 L132.48 190.18 L132.82 191.49 L133.16 192.80 L133.50 194.12 L133.86 195.43 L134.22 196.73 L134.58 198.04 L134.95 199.35 L135.33 200.65 L135.71 201.96 L136.10 203.26 L136.50 204.57 L136.90 205.87 L137.31 207.17 L137.73 208.47 L138.16 209.76 L138.60 211.05 L139.05 212.34 L139.51 213.63 L139.98 214.91 L140.46 216.18 L140.96 217.45 L141.47 218.72 L142.00 219.97 L142.55 221.23 L143.11 222.47 L143.68 223.71 L144.28 224.93 L144.89 226.15 L145.53 227.36 L146.18 228.56 L146.86 229.75 L147.55 230.93 L148.27 232.10 L149.02 233.25 L149.78 234.38 L150.57 235.49 L151.39 236.58 L152.23 237.65 L153.09 238.69 L153.99 239.70 L154.91 240.69 L155.86 241.65 L156.83 242.57 L157.83 243.46 L158.86 244.31 L159.92 245.14 L160.99 245.92 L162.09 246.67 L163.21 247.38 L164.35 248.06 L165.51 248.70 L166.69 249.29 L167.89 249.85 L169.10 250.36 L170.33 250.84 L171.58 251.28 L172.84 251.68 L174.11 252.05 L175.39 252.38 L176.69 252.69 L178.00 252.96 L179.32 253.21 L180.65 253.43 L181.99 253.62 L183.34 253.79 L184.69 253.94 L186.05 254.07 L187.42 254.18 L188.79 254.27 L190.17 254.35 L191.55 254.42 L192.93 254.47 L194.32 254.51 L195.71 254.55 L197.10 254.57 L198.49 254.59 L199.88 254.61 L201.26 254.63 L202.65 254.64 L204.03 254.65 L205.41 254.67 L206.78 254.69 L208.16 254.70 L209.53 254.72 L210.90 254.74 L212.26 254.75 L213.63 254.77 L214.99 254.79 L216.35 254.80 L217.71 254.82 L219.07 254.83 L220.42 254.85 L221.77 254.86 L223.13 254.87 L224.48 254.88 L225.83 254.89 L227.18 254.89 L228.52 254.89 L229.87 254.90 L231.22 254.90 L232.56 254.89 L233.91 254.89 L235.25 254.88 L236.59 254.87 L237.94 254.85 L239.28 254.84 L240.62 254.81 L241.97 254.79 L243.31 254.76 L244.66 254.73 L246.00 254.69 L247.35 254.65 L248.69 254.61 L250.04 254.56 L251.38 254.51 L252.73 254.45 L254.08 254.39 L255.42 254.33 L256.77 254.26 L258.12 254.19 L259.47 254.11 L260.82 254.03 L262.16 253.95 L263.51 253.87 L264.86 253.78 L266.21 253.68 L267.56 253.58 L268.91 253.48 L270.26 253.38 L271.61 253.27 L272.96 253.16 L274.31 253.05 L275.66 252.93 L277.01 252.81 L278.36 252.68 L279.70 252.56 L281.05 252.42 L282.40 252.29 L283.75 252.15 L285.10 252.01 L286.45 251.87 L287.80 251.72 L289.15 251.57 L290.50 251.42 L291.84 251.26 L293.19 251.10 L294.54 250.94 L295.89 250.78 L297.23 250.61 L298.58 250.44 L299.93 250.26 L301.27 250.09 L302.62 249.91 L303.96 249.73 L305.31 249.54 L306.65 249.36 L308.00 249.17 L309.34 248.98 L310.68 248.78 L312.02 248.58 L313.37 248.38 L314.71 248.18 L316.05 247.98 L317.39 247.77 L318.73 247.56 L320.06 247.35 L321.40 247.13 L322.74 246.92 L324.08 246.70 L325.42 246.47 L326.75 246.25 L328.09 246.02 L329.42 245.79 L330.76 245.56 L332.09 245.33 L333.42 245.09 L334.76 244.85 L336.09 244.61 L337.42 244.37 L338.75 244.12 L340.08 243.87 L341.41 243.62 L342.74 243.37 L344.07 243.11 L345.40 242.86 L346.73 242.60 L348.06 242.33 L349.39 242.07 L350.71 241.80 L352.04 241.53 L353.37 241.26 L354.69 240.99 L356.02 240.71 L357.34 240.44 L358.67 240.15 L359.99 239.87 L361.31 239.59 L362.64 239.30 L363.96 239.01 L365.28 238.72 L366.60 238.43 L367.92 238.13 L369.24 237.83 L370.56 237.53 L371.88 237.23 L373.20 236.93 L374.52 236.62 L375.84 236.31 L377.15 236.00 L378.47 235.69 L379.79 235.37 L381.10 235.05 L382.42 234.73 L383.73 234.41 L385.05 234.09 L386.36 233.76 L387.68 233.44 L388.99 233.11 L390.31 232.78 L391.62 232.45 L392.93 232.12 L394.25 231.78 L395.56 231.45 L396.87 231.11 L398.18 230.78 L399.49 230.44 L400.81 230.10 L402.12 229.76 L403.43 229.42 L404.74 229.08 L406.05 228.74 L407.36 228.40 L408.67 228.05 L409.98 227.71 L411.30 227.37 L412.61 227.02 L413.92 226.68 L415.23 226.34 L416.54 226.00 L417.85 225.65 L419.16 225.31 L420.47 224.97 L421.78 224.63 L423.09 224.29 L424.41 223.94 L425.72 223.60 L427.03 223.27 L428.34 222.93 L429.65 222.59 L430.96 222.25 L432.28 221.92 L433.59 221.58 L434.90 221.25 L436.22 220.92 L437.53 220.59 L438.84 220.26 L440.16 219.93 L441.47 219.61 L442.79 219.28 L444.10 218.96 L445.42 218.64 L446.73 218.32 L448.05 218.00 L449.37 217.69 L450.68 217.37 L452.00 217.06 L453.32 216.75 L454.64 216.43 L455.95 216.12 L457.27 215.81 L458.59 215.50 L459.90 215.18 L461.22 214.87 L462.54 214.56 L463.85 214.24 L465.17 213.92 L466.49 213.61 L467.80 213.29 L469.12 212.96 L470.43 212.64 L471.74 212.31 L473.06 211.98 L474.37 211.65 L475.68 211.31 L476.99 210.97 L478.30 210.63 L479.61 210.28 L480.92 209.93 L482.22 209.58 L483.53 209.22 L484.84 208.86 L486.14 208.50 L487.44 208.13 L488.75 207.76 L490.05 207.39 L491.35 207.01 L492.65 206.64 L493.95 206.26 L495.25 205.87 L496.55 205.49 L497.85 205.10 L499.15 204.72 L500.45 204.33 L501.74 203.93 L503.04 203.54 L504.34 203.15 L505.63 202.75 L506.93 202.36 L508.22 201.96 L509.52 201.56 L510.81 201.16 L512.11 200.76 L513.40 200.36 L514.69 199.96 L515.99 199.56" fill="none" stroke="#000" stroke-width="4.2" stroke-dasharray="12.00 5.00" stroke-dashoffset="13.96" clip-path="url(#nl)"/>
<path d="M113.81 10.02 L113.90 11.37 L114.00 12.71 L114.09 14.06 L114.18 15.40 L114.27 16.75 L114.36 18.10 L114.45 19.44 L114.53 20.79 L114.62 22.14 L114.70 23.49 L114.79 24.84 L114.87 26.18 L114.95 27.53 L115.04 28.88 L115.12 30.23 L115.20 31.58 L115.28 32.93 L115.35 34.29 L115.43 35.64 L115.51 36.99 L115.59 38.34 L115.67 39.69 L115.74 41.04 L115.82 42.40 L115.90 43.75 L115.97 45.10 L116.05 46.46 L116.12 47.81 L116.20 49.16 L116.27 50.52 L116.35 51.87 L116.42 53.22 L116.50 54.58 L116.57 55.93 L116.65 57.29 L116.73 58.64 L116.80 60.00 L116.88 61.35 L116.96 62.71 L117.03 64.06 L117.11 65.42 L117.19 66.77 L117.27 68.13 L117.35 69.48 L117.43 70.84 L117.51 72.19 L117.59 73.55 L117.67 74.90 L117.75 76.26 L117.84 77.61 L117.92 78.97 L118.00 80.32 L118.09 81.68 L118.18 83.03 L118.27 84.38 L118.35 85.74 L118.44 87.09 L118.54 88.45 L118.63 89.80 L118.72 91.16 L118.82 92.51 L118.91 93.86 L119.01 95.22 L119.11 96.57 L119.21 97.92 L119.31 99.27 L119.42 100.63 L119.52 101.98 L119.63 103.33 L119.74 104.68 L119.85 106.04 L119.96 107.39 L120.08 108.74 L120.19 110.09 L120.31 111.44 L120.43 112.79 L120.55 114.14 L120.67 115.49 L120.80 116.84 L120.93 118.19 L121.06 119.53 L121.19 120.88 L121.32 122.23 L121.46 123.58 L121.60 124.92 L121.74 126.27 L121.89 127.61 L122.03 128.96 L122.18 130.31 L122.33 131.65 L122.49 132.99 L122.64 134.34 L122.80 135.68 L122.96 137.02 L123.13 138.36 L123.30 139.71 L123.47 141.05 L123.64 142.39 L123.82 143.73 L124.00 145.07 L124.18 146.40 L124.36 147.74 L124.55 149.08 L124.75 150.42 L124.94 151.75 L125.14 153.09 L125.35 154.42 L125.55 155.76 L125.76 157.09 L125.98 158.42 L126.20 159.75 L126.42 161.09 L126.65 162.42 L126.88 163.75 L127.11 165.08 L127.35 166.40 L127.60 167.73 L127.84 169.06 L128.10 170.39 L128.35 171.71 L128.62 173.04 L128.88 174.36 L129.15 175.68 L129.43 177.00 L129.71 178.33 L130.00 179.65 L130.29 180.97 L130.59 182.29 L130.89 183.60 L131.20 184.92 L131.51 186.24 L131.83 187.55 L132.15 188.87 L132.48 190.18 L132.82 191.49 L133.16 192.80 L133.50 194.12 L133.86 195.43 L134.22 196.73 L134.58 198.04 L134.95 199.35 L135.33 200.65 L135.71 201.96 L136.10 203.26 L136.50 204.57 L136.90 205.87 L137.31 207.17 L137.73 208.47 L138.16 209.76 L138.60 211.05 L139.05 212.34 L139.51 213.63 L139.98 214.91 L140.46 216.18 L140.96 217.45 L141.47 218.72 L142.00 219.97 L142.55 221.23 L143.11 222.47 L143.68 223.71 L144.28 224.93 L144.89 226.15 L145.53 227.36 L146.18 228.56 L146.86 229.75 L147.55 230.93 L148.27 232.10 L149.02 233.25 L149.78 234.38 L150.57 235.49 L151.39 236.58 L152.23 237.65 L153.09 238.69 L153.99 239.70 L154.91 240.69 L155.86 241.65 L156.83 242.57 L157.83 243.46 L158.86 244.31 L159.92 245.14 L160.99 245.92 L162.09 246.67 L163.21 247.38 L164.35 248.06 L165.51 248.70 L166.69 249.29 L167.89 249.85 L169.10 250.36 L170.33 250.84 L171.58 251.28 L172.84 251.68 L174.11 252.05 L175.39 252.38 L176.69 252.69 L178.00 252.96 L179.32 253.21 L180.65 253.43 L181.99 253.62 L183.34 253.79 L184.69 253.94 L186.05 254.07 L187.42 254.18 L188.79 254.27 L190.17 254.35 L191.55 254.42 L192.93 254.47 L194.32 254.51 L195.71 254.55 L197.10 254.57 L198.49 254.59 L199.88 254.61 L201.26 254.63 L202.65 254.64 L204.03 254.65 L205.41 254.67 L206.78 254.69 L208.16 254.70 L209.53 254.72 L210.90 254.74 L212.26 254.75 L213.63 254.77 L214.99 254.79 L216.35 254.80 L217.71 254.82 L219.07 254.83 L220.42 254.85 L221.77 254.86 L223.13 254.87 L224.48 254.88 L225.83 254.89 L227.18 254.89 L228.52 254.89 L229.87 254.90 L231.22 254.90 L232.56 254.89 L233.91 254.89 L235.25 254.88 L236.59 254.87 L237.94 254.85 L239.28 254.84 L240.62 254.81 L241.97 254.79 L243.31 254.76 L244.66 254.73 L246.00 254.69 L247.35 254.65 L248.69 254.61 L250.04 254.56 L251.38 254.51 L252.73 254.45 L254.08 254.39 L255.42 254.33 L256.77 254.26 L258.12 254.19 L259.47 254.11 L260.82 254.03 L262.16 253.95 L263.51 253.87 L264.86 253.78 L266.21 253.68 L267.56 253.58 L268.91 253.48 L270.26 253.38 L271.61 253.27 L272.96 253.16 L274.31 253.05 L275.66 252.93 L277.01 252.81 L278.36 252.68 L279.70 252.56 L281.05 252.42 L282.40 252.29 L283.75 252.15 L285.10 252.01 L286.45 251.87 L287.80 251.72 L289.15 251.57 L290.50 251.42 L291.84 251.26 L293.19 251.10 L294.54 250.94 L295.89 250.78 L297.23 250.61 L298.58 250.44 L299.93 250.26 L301.27 250.09 L302.62 249.91 L303.96 249.73 L305.31 249.54 L306.65 249.36 L308.00 249.17 L309.34 248.98 L310.68 248.78 L312.02 248.58 L313.37 248.38 L314.71 248.18 L316.05 247.98 L317.39 247.77 L318.73 247.56 L320.06 247.35 L321.40 247.13 L322.74 246.92 L324.08 246.70 L325.42 246.47 L326.75 246.25 L328.09 246.02 L329.42 245.79 L330.76 245.56 L332.09 245.33 L333.42 245.09 L334.76 244.85 L336.09 244.61 L337.42 244.37 L338.75 244.12 L340.08 243.87 L341.41 243.62 L342.74 243.37 L344.07 243.11 L345.40 242.86 L346.73 242.60 L348.06 242.33 L349.39 242.07 L350.71 241.80 L352.04 241.53 L353.37 241.26 L354.69 240.99 L356.02 240.71 L357.34 240.44 L358.67 240.15 L359.99 239.87 L361.31 239.59 L362.64 239.30 L363.96 239.01 L365.28 238.72 L366.60 238.43 L367.92 238.13 L369.24 237.83 L370.56 237.53 L371.88 237.23 L373.20 236.93 L374.52 236.62 L375.84 236.31 L377.15 236.00 L378.47 235.69 L379.79 235.37 L381.10 235.05 L382.42 234.73 L383.73 234.41 L385.05 234.09 L386.36 233.76 L387.68 233.44 L388.99 233.11 L390.31 232.78 L391.62 232.45 L392.93 232.12 L394.25 231.78 L395.56 231.45 L396.87 231.11 L398.18 230.78 L399.49 230.44 L400.81 230.10 L402.12 229.76 L403.43 229.42 L404.74 229.08 L406.05 228.74 L407.36 228.40 L408.67 228.05 L409.98 227.71 L411.30 227.37 L412.61 227.02 L413.92 226.68 L415.23 226.34 L416.54 226.00 L417.85 225.65 L419.16 225.31 L420.47 224.97 L421.78 224.63 L423.09 224.29 L424.41 223.94 L425.72 223.60 L427.03 223.27 L428.34 222.93 L429.65 222.59 L430.96 222.25 L432.28 221.92 L433.59 221.58 L434.90 221.25 L436.22 220.92 L437.53 220.59 L438.84 220.26 L440.16 219.93 L441.47 219.61 L442.79 219.28 L444.10 218.96 L445.42 218.64 L446.73 218.32 L448.05 218.00 L449.37 217.69 L450.68 217.37 L452.00 217.06 L453.32 216.75 L454.64 216.43 L455.95 216.12 L457.27 215.81 L458.59 215.50 L459.90 215.18 L461.22 214.87 L462.54 214.56 L463.85 214.24 L465.17 213.92 L466.49 213.61 L467.80 213.29 L469.12 212.96 L470.43 212.64 L471.74 212.31 L473.06 211.98 L474.37 211.65 L475.68 211.31 L476.99 210.97 L478.30 210.63 L479.61 210.28 L480.92 209.93 L482.22 209.58 L483.53 209.22 L484.84 208.86 L486.14 208.50 L487.44 208.13 L488.75 207.76 L490.05 207.39 L491.35 207.01 L492.65 206.64 L493.95 206.26 L495.25 205.87 L496.55 205.49 L497.85 205.10 L499.15 204.72 L500.45 204.33 L501.74 203.93 L503.04 203.54 L504.34 203.15 L505.63 202.75 L506.93 202.36 L508.22 201.96 L509.52 201.56 L510.81 201.16 L512.11 200.76 L513.40 200.36 L514.69 199.96 L515.99 199.56" fill="none" stroke="#000" stroke-width="3.7" stroke-dasharray="12.00 5.00" stroke-dashoffset="13.96" clip-path="url(#rr)"/>
<g clip-path="url(#rr)">
<path d="M104.20 60.69 L106.27 60.67 L108.34 60.64 L110.41 60.62 L112.48 60.60 L114.55 60.58 L116.62 60.56 L118.69 60.54 L120.76 60.52 L122.83 60.51 L124.90 60.49 L126.97 60.47 L129.04 60.45 L131.11 60.43 L133.18 60.42 L135.25 60.40 L137.32 60.38 L139.39 60.37 L141.46 60.35 L143.53 60.34 L145.60 60.33 L147.67 60.31 L149.74 60.30 L151.81 60.29 L153.88 60.27 L155.95 60.26 L158.02 60.25 L160.09 60.24 L162.16 60.23 L164.23 60.22 L166.30 60.21 L168.37 60.20 L170.44 60.19 L172.51 60.19 L174.58 60.18 L176.65 60.17 L178.72 60.17 L180.79 60.16 L182.86 60.16 L184.93 60.15 L187.00 60.15 L189.07 60.15 L191.14 60.15 L193.21 60.15 L195.28 60.15 L197.35 60.15 L199.42 60.15 L201.49 60.15 L203.56 60.15 L205.63 60.15 L207.70 60.16 L209.77 60.16 L211.84 60.17 L213.91 60.17 L215.98 60.18 L218.05 60.19 L220.12 60.20 L222.19 60.21 L224.26 60.22 L226.33 60.23 L228.40 60.24 L230.47 60.25 L232.54 60.26 L234.61 60.28 L236.68 60.29 L238.75 60.31 L240.82 60.32 L242.88 60.34 L244.95 60.36 L247.02 60.38 L249.09 60.40 L251.16 60.42 L253.23 60.44 L255.30 60.47 L257.37 60.49 L259.44 60.52 L261.51 60.54 L263.58 60.57 L265.65 60.60 L267.72 60.63 L269.79 60.66 L271.86 60.69 L273.93 60.72 L276.00 60.75 L278.06 60.78 L280.13 60.82 L282.20 60.86 L284.27 60.89 L286.34 60.93 L288.41 60.97 L290.48 61.01 L292.55 61.05 L294.62 61.10 L296.69 61.14 L298.76 61.18 L300.82 61.23 L302.89 61.28 L304.96 61.33 L307.03 61.37 L309.10 61.43 L311.17 61.48 L313.24 61.53 L315.31 61.58 L317.38 61.64 L319.45 61.70 L321.51 61.75 L323.58 61.81 L325.65 61.87 L327.72 61.93 L329.79 61.99 L331.86 62.05 L333.93 62.12 L336.00 62.18 L338.06 62.24 L340.13 62.31 L342.20 62.37 L344.27 62.44 L346.34 62.51 L348.41 62.57 L350.48 62.64 L352.54 62.71 L354.61 62.78 L356.68 62.84 L358.75 62.91 L360.82 62.98 L362.89 63.05 L364.96 63.12 L367.02 63.19 L369.09 63.26 L371.16 63.33 L373.23 63.40 L375.30 63.47 L377.37 63.55 L379.44 63.62 L381.50 63.69 L383.57 63.76 L385.64 63.83 L387.71 63.90 L389.78 63.97 L391.85 64.04 L393.92 64.10 L395.99 64.17 L398.05 64.24 L400.12 64.31 L402.19 64.38 L404.26 64.45 L406.33 64.51 L408.40 64.58 L410.47 64.64 L412.53 64.71 L414.60 64.77 L416.67 64.83 L418.74 64.90 L420.81 64.96 L422.88 65.02 L424.95 65.08 L427.02 65.14 L429.08 65.19 L431.15 65.25 L433.22 65.30 L435.29 65.36 L437.36 65.41 L439.43 65.46 L441.50 65.51 L443.57 65.55 L445.63 65.60 L447.70 65.64 L449.77 65.69 L451.84 65.73 L453.91 65.76 L455.98 65.80 L458.05 65.84 L460.12 65.87 L462.19 65.90 L464.26 65.93 L466.33 65.96 L468.40 65.98 L470.46 66.00 L472.53 66.02 L474.60 66.04 L476.67 66.05 L478.74 66.07 L480.81 66.08 L482.88 66.08 L484.95 66.09 L487.02 66.09 L489.09 66.09 L491.16 66.09 L493.23 66.08 L495.30 66.07 L497.37 66.06 L499.44 66.04 L501.51 66.02 L503.58 66.00 L505.65 65.98 L507.72 65.95 L509.79 65.92 L511.86 65.88 L513.93 65.85 L516.00 65.80" fill="none" stroke="#000" stroke-width="3.8" stroke-dasharray="5.50 5.10" stroke-dashoffset="6.72"/>
<path d="M104.20 140.00 L106.26 140.04 L108.33 140.07 L110.39 140.11 L112.46 140.15 L114.53 140.19 L116.59 140.23 L118.66 140.27 L120.72 140.32 L122.79 140.36 L124.85 140.41 L126.92 140.45 L128.99 140.50 L131.05 140.55 L133.12 140.60 L135.19 140.65 L137.25 140.70 L139.32 140.75 L141.39 140.80 L143.45 140.85 L145.52 140.91 L147.59 140.96 L149.66 141.02 L151.72 141.08 L153.79 141.13 L155.86 141.19 L157.93 141.25 L160.00 141.31 L162.06 141.37 L164.13 141.43 L166.20 141.49 L168.27 141.55 L170.34 141.61 L172.41 141.67 L174.48 141.73 L176.55 141.80 L178.61 141.86 L180.68 141.92 L182.75 141.99 L184.82 142.05 L186.89 142.11 L188.96 142.18 L191.03 142.24 L193.10 142.31 L195.17 142.37 L197.24 142.44 L199.31 142.50 L201.38 142.57 L203.45 142.64 L205.52 142.70 L207.59 142.77 L209.66 142.83 L211.73 142.90 L213.80 142.96 L215.87 143.03 L217.94 143.10 L220.02 143.16 L222.09 143.23 L224.16 143.29 L226.23 143.36 L228.30 143.42 L230.37 143.49 L232.44 143.55 L234.51 143.62 L236.58 143.68 L238.65 143.74 L240.73 143.81 L242.80 143.87 L244.87 143.93 L246.94 143.99 L249.01 144.06 L251.08 144.12 L253.15 144.18 L255.23 144.24 L257.30 144.30 L259.37 144.36 L261.44 144.42 L263.51 144.47 L265.58 144.53 L267.66 144.59 L269.73 144.64 L271.80 144.70 L273.87 144.75 L275.94 144.81 L278.02 144.86 L280.09 144.91 L282.16 144.97 L284.23 145.02 L286.30 145.07 L288.38 145.12 L290.45 145.16 L292.52 145.21 L294.59 145.26 L296.66 145.30 L298.74 145.35 L300.81 145.39 L302.88 145.43 L304.95 145.47 L307.02 145.51 L309.10 145.55 L311.17 145.59 L313.24 145.63 L315.31 145.66 L317.38 145.69 L319.46 145.73 L321.53 145.76 L323.60 145.79 L325.67 145.82 L327.74 145.85 L329.81 145.87 L331.89 145.90 L333.96 145.92 L336.03 145.94 L338.10 145.96 L340.17 145.98 L342.25 146.00 L344.32 146.02 L346.39 146.03 L348.46 146.04 L350.53 146.06 L352.60 146.07 L354.68 146.07 L356.75 146.08 L358.82 146.08 L360.89 146.09 L362.96 146.09 L365.03 146.09 L367.10 146.09 L369.18 146.08 L371.25 146.08 L373.32 146.07 L375.39 146.06 L377.46 146.05 L379.53 146.03 L381.60 146.02 L383.67 146.00 L385.74 145.98 L387.81 145.96 L389.88 145.94 L391.95 145.91 L394.03 145.88 L396.10 145.85 L398.17 145.82 L400.24 145.79 L402.31 145.75 L404.38 145.71 L406.45 145.67 L408.52 145.63 L410.59 145.58 L412.66 145.54 L414.73 145.49 L416.80 145.43 L418.87 145.38 L420.93 145.32 L423.00 145.26 L425.07 145.20 L427.14 145.13 L429.21 145.07 L431.28 145.00 L433.35 144.93 L435.42 144.85 L437.49 144.77 L439.56 144.69 L441.62 144.61 L443.69 144.53 L445.76 144.44 L447.83 144.35 L449.90 144.25 L451.96 144.16 L454.03 144.06 L456.10 143.96 L458.17 143.85 L460.24 143.74 L462.30 143.63 L464.37 143.52 L466.44 143.40 L468.50 143.28 L470.57 143.16 L472.64 143.04 L474.70 142.91 L476.77 142.78 L478.84 142.64 L480.90 142.51 L482.97 142.37 L485.03 142.22 L487.10 142.07 L489.17 141.92 L491.23 141.77 L493.30 141.61 L495.36 141.45 L497.43 141.29 L499.49 141.12 L501.56 140.95 L503.62 140.78 L505.69 140.61 L507.75 140.43 L509.81 140.24 L511.88 140.05 L513.94 139.86 L516.00 139.67" fill="none" stroke="#000" stroke-width="3.8" stroke-dasharray="5.50 5.10" stroke-dashoffset="5.67"/>
</g>
</g>
<path d="M104.10 280V275.30M115.84 280V277.30M127.57 280V277.30M139.31 280V277.30M151.05 280V277.30M162.78 280V275.30M174.52 280V277.30M186.26 280V277.30M198.00 280V277.30M209.73 280V277.30M221.47 280V275.30M233.21 280V277.30M244.94 280V277.30M256.68 280V277.30M268.42 280V277.30M280.15 280V275.30M291.89 280V277.30M303.63 280V277.30M315.37 280V277.30M327.10 280V277.30M338.84 280V275.30M350.58 280V277.30M362.31 280V277.30M374.05 280V277.30M385.79 280V277.30M397.52 280V275.30M409.26 280V277.30M421.00 280V277.30M432.74 280V277.30M444.47 280V277.30M456.21 280V275.30M467.95 280V277.30M479.68 280V277.30M491.42 280V277.30M503.16 280V277.30M514.89 280V275.30M95.4 279.60H100.70M523.4 279.60H518.30M95.4 270.80H98.70M523.4 270.80H520.30M95.4 262.00H98.70M523.4 262.00H520.30M95.4 253.20H98.70M523.4 253.20H520.30M95.4 244.40H98.70M523.4 244.40H520.30M95.4 235.60H100.70M523.4 235.60H518.30M95.4 226.80H98.70M523.4 226.80H520.30M95.4 218.00H98.70M523.4 218.00H520.30M95.4 209.20H98.70M523.4 209.20H520.30M95.4 200.40H98.70M523.4 200.40H520.30M95.4 191.60H100.70M523.4 191.60H518.30M95.4 182.80H98.70M523.4 182.80H520.30M95.4 174.00H98.70M523.4 174.00H520.30M95.4 165.20H98.70M523.4 165.20H520.30M95.4 156.40H98.70M523.4 156.40H520.30M95.4 147.60H100.70M523.4 147.60H518.30M95.4 138.80H98.70M523.4 138.80H520.30M95.4 130.00H98.70M523.4 130.00H520.30M95.4 121.20H98.70M523.4 121.20H520.30M95.4 112.40H98.70M523.4 112.40H520.30M95.4 103.60H100.70M523.4 103.60H518.30M95.4 94.80H98.70M523.4 94.80H520.30M95.4 86.00H98.70M523.4 86.00H520.30M95.4 77.20H98.70M523.4 77.20H520.30M95.4 68.40H98.70M523.4 68.40H520.30M95.4 59.60H100.70M523.4 59.60H518.30M95.4 50.80H98.70M523.4 50.80H520.30M95.4 42.00H98.70M523.4 42.00H520.30M95.4 33.20H98.70M523.4 33.20H520.30M95.4 24.40H98.70M523.4 24.40H520.30M95.4 15.60H100.70M523.4 15.60H518.30" stroke="#666666" stroke-width="1.3" fill="none"/>
<path d="M104.10 16V19.50M127.57 16V18.60M151.05 16V18.60M174.52 16V18.60M198.00 16V18.60M221.47 16V19.50M244.94 16V18.60M268.42 16V18.60M291.89 16V18.60M315.37 16V18.60M338.84 16V19.50M362.31 16V18.60M385.79 16V18.60M409.26 16V18.60M432.74 16V18.60M456.21 16V19.50M479.68 16V18.60M503.16 16V18.60" stroke="#666666" stroke-width="0.7" fill="none"/>
<rect x="95.4" y="16" width="428" height="264" fill="none" stroke="#666666" stroke-width="2"/>
<path d="M228.3 16.1h5.7v1h-5.7z" fill="#000"/>
<text x="104.10" y="312.30" font-size="28" font-family="Liberation Serif, serif" fill="#666666" text-anchor="middle" stroke="#666666" stroke-width="0.4" >0</text>
<text x="162.78" y="312.30" font-size="28" font-family="Liberation Serif, serif" fill="#666666" text-anchor="middle" stroke="#666666" stroke-width="0.4" >50</text>
<text x="221.47" y="312.30" font-size="28" font-family="Liberation Serif, serif" fill="#666666" text-anchor="middle" stroke="#666666" stroke-width="0.4" >100</text>
<text x="280.15" y="312.30" font-size="28" font-family="Liberation Serif, serif" fill="#666666" text-anchor="middle" stroke="#666666" stroke-width="0.4" >150</text>
<text x="338.84" y="312.30" font-size="28" font-family="Liberation Serif, serif" fill="#666666" text-anchor="middle" stroke="#666666" stroke-width="0.4" >200</text>
<text x="397.52" y="312.30" font-size="28" font-family="Liberation Serif, serif" fill="#666666" text-anchor="middle" stroke="#666666" stroke-width="0.4" >250</text>
<text x="456.21" y="312.30" font-size="28" font-family="Liberation Serif, serif" fill="#666666" text-anchor="middle" stroke="#666666" stroke-width="0.4" >300</text>
<text x="514.89" y="312.30" font-size="28" font-family="Liberation Serif, serif" fill="#666666" text-anchor="middle" stroke="#666666" stroke-width="0.4" >350</text>
<text x="89.70" y="289.50" font-size="28" font-family="Liberation Serif, serif" fill="#666666" text-anchor="end" stroke="#666666" stroke-width="0.4" >0.5</text>
<text x="89.70" y="245.50" font-size="28" font-family="Liberation Serif, serif" fill="#666666" text-anchor="end" stroke="#666666" stroke-width="0.4" >0.6</text>
<text x="89.70" y="201.50" font-size="28" font-family="Liberation Serif, serif" fill="#666666" text-anchor="end" stroke="#666666" stroke-width="0.4" >0.7</text>
<text x="89.70" y="157.50" font-size="28" font-family="Liberation Serif, serif" fill="#666666" text-anchor="end" stroke="#666666" stroke-width="0.4" >0.8</text>
<text x="89.70" y="113.50" font-size="28" font-family="Liberation Serif, serif" fill="#666666" text-anchor="end" stroke="#666666" stroke-width="0.4" >0.9</text>
<text x="89.70" y="69.50" font-size="28" font-family="Liberation Serif, serif" fill="#666666" text-anchor="end" stroke="#666666" stroke-width="0.4" >1.0</text>
<text x="89.70" y="25.50" font-size="28" font-family="Liberation Serif, serif" fill="#666666" text-anchor="end" stroke="#666666" stroke-width="0.4" >1.1</text>
<text x="235.20" y="365.00" font-size="40" font-family="Liberation Serif, serif" fill="#666666" text-anchor="start" font-style="italic" stroke="#666666" stroke-width="0.4" >m</text>
<text x="263.80" y="369.80" font-size="28.8" font-family="Liberation Serif, serif" fill="#666666" text-anchor="start" font-style="italic" stroke="#666666" stroke-width="0.4" >N</text>
<text x="282.40" y="373.90" font-size="20.2" font-family="Liberation Serif, serif" fill="#666666" text-anchor="start" >1</text>
<path d="M306.8 338.9H310.6L300.6 371.6H296.8Z" fill="#666666"/>
<text x="310.20" y="365.00" font-size="40" font-family="Liberation Serif, serif" fill="#666666" text-anchor="start" stroke="#666666" stroke-width="0.4" >G</text>
<text x="337.80" y="365.00" font-size="40" font-family="Liberation Serif, serif" fill="#666666" text-anchor="start" stroke="#666666" stroke-width="0.4" >e</text>
<text x="353.60" y="365.00" font-size="40" font-family="Liberation Serif, serif" fill="#666666" text-anchor="start" stroke="#666666" stroke-width="0.4" >V</text>
<g transform="translate(34.5,177) rotate(-90)">
<rect x="-1" y="-26.1" width="2.5" height="32.1" fill="#666666"/>
<text x="23.70" y="4.50" font-size="26.3" font-family="Liberation Serif, serif" fill="#666666" text-anchor="start" stroke="#666666" stroke-width="0.4" >13</text>
<rect x="56.5" y="-26.1" width="2.5" height="32.1" fill="#666666"/>
</g>
<rect x="524.0" y="15.2" width="125.0" height="31.9" fill="#fff" shape-rendering="crispEdges"/>
<rect x="524.0" y="47.3" width="189.4" height="45.4" fill="#fff" shape-rendering="crispEdges"/>
<rect x="524.0" y="92.0" width="90.8" height="22.9" fill="#fff" shape-rendering="crispEdges"/>
<rect x="524.0" y="114.6" width="189.4" height="46.0" fill="#fff" shape-rendering="crispEdges"/>
<rect x="524.0" y="160.3" width="90.8" height="25.5" fill="#fff" shape-rendering="crispEdges"/>
<rect x="524.0" y="185.5" width="77.3" height="27.1" fill="#fff" shape-rendering="crispEdges"/>
<rect x="524.0" y="212.3" width="57.0" height="25.6" fill="#fff" shape-rendering="crispEdges"/>
<text x="526.80" y="41.80" font-size="27.5" font-family="Liberation Sans, sans-serif" fill="#000" text-anchor="start" font-style="italic" >m</text>
<text x="549.30" y="46.90" font-size="19" font-family="Liberation Sans, sans-serif" fill="#000" text-anchor="start" font-style="italic" >S</text>
<text x="562.00" y="52.00" font-size="19" font-family="Liberation Sans, sans-serif" fill="#000" text-anchor="start" >2</text>
<path d="M577.90 30.20h13.3v2.3h-13.3zM577.90 36.15h13.3v2.3h-13.3z" fill="#000"/>
<text x="594.20" y="41.80" font-size="27.5" font-family="Liberation Sans, sans-serif" fill="#000" text-anchor="start" font-style="italic" >m</text>
<text x="616.90" y="46.80" font-size="19" font-family="Liberation Sans, sans-serif" fill="#000" text-anchor="start" font-style="italic" >N</text>
<path d="M637.9 37.90H639.6V51.30H637.4V40.60L634.0 43.30L633.5 41.90Z" fill="#000"/>
<rect x="524.0" y="47.0" width="125.0" height="12" fill="#fff" fill-opacity="0.6"/>
<text x="529.80" y="77.00" font-size="27.5" font-family="Liberation Sans, sans-serif" fill="#000" text-anchor="start" font-style="italic" >m</text>
<text x="552.30" y="82.10" font-size="19" font-family="Liberation Sans, sans-serif" fill="#000" text-anchor="start" font-style="italic" >S</text>
<text x="565.20" y="87.20" font-size="19" font-family="Liberation Sans, sans-serif" fill="#000" text-anchor="start" >2</text>
<path d="M581.10 65.40h13.3v2.3h-13.3zM581.10 71.35h13.3v2.3h-13.3z" fill="#000"/>
<text x="596.20" y="77.00" font-size="27.5" font-family="Liberation Sans, sans-serif" fill="#000" text-anchor="start" >300</text>
<text x="652.40" y="77.00" font-size="27.5" font-family="Liberation Sans, sans-serif" fill="#000" text-anchor="start" letter-spacing="0.7">GeV</text>
<text x="527.00" y="114.20" font-size="27.5" font-family="Liberation Serif, serif" fill="#ff0000" text-anchor="start" >ILC500</text>
<text x="529.80" y="145.80" font-size="27.5" font-family="Liberation Sans, sans-serif" fill="#000" text-anchor="start" font-style="italic" >m</text>
<text x="552.30" y="150.90" font-size="19" font-family="Liberation Sans, sans-serif" fill="#000" text-anchor="start" font-style="italic" >S</text>
<text x="565.20" y="156.00" font-size="19" font-family="Liberation Sans, sans-serif" fill="#000" text-anchor="start" >2</text>
<path d="M581.10 134.20h13.3v2.3h-13.3zM581.10 140.15h13.3v2.3h-13.3z" fill="#000"/>
<text x="596.20" y="145.80" font-size="27.5" font-family="Liberation Sans, sans-serif" fill="#000" text-anchor="start" >200</text>
<text x="652.40" y="145.80" font-size="27.5" font-family="Liberation Sans, sans-serif" fill="#000" text-anchor="start" letter-spacing="0.7">GeV</text>
<text x="527.00" y="178.80" font-size="27.5" font-family="Liberation Serif, serif" fill="#ff0000" text-anchor="start" >ILC250</text>
<text x="527.00" y="204.70" font-size="27.5" font-family="Liberation Serif, serif" fill="#ff0000" text-anchor="start" >CEPC</text>
<text x="527.80" y="230.80" font-size="27.5" font-family="Liberation Serif, serif" fill="#000" text-anchor="start" >LEP</text>
<g fill="none" stroke="#666666" stroke-linejoin="round" stroke-linecap="round">
<path d="M20.02 156.58 L19.75 156.72 L19.51 156.96 L19.30 157.29 L19.12 157.69 L18.97 158.14 L18.84 158.63 L18.73 159.15 L18.64 159.67 L18.58 160.19 L18.54 160.68 L18.51 161.16 L18.50 161.61 L18.51 162.06 L18.54 162.49 L18.57 162.92 L18.62 163.34 L18.68 163.76 L18.75 164.19 L18.83 164.63 L18.92 165.07 L19.02 165.51 L19.15 165.95 L19.30 166.37 L19.47 166.77 L19.69 167.15 L19.94 167.49 L20.23 167.80 L20.57 168.06 L20.95 168.29 L21.36 168.47 L21.79 168.61 L22.25 168.72 L22.72 168.78 L23.21 168.81 L23.69 168.80 L24.17 168.76 L24.65 168.67 L25.11 168.56 L25.55 168.41 L25.97 168.22 L26.36 168.00 L26.71 167.75 L27.03 167.48 L27.31 167.17 L27.55 166.84 L27.76 166.49 L27.94 166.12 L28.08 165.73 L28.19 165.33 L28.26 164.92 L28.30 164.51 L28.31 164.08 L28.28 163.66 L28.23 163.24 L28.14 162.82 L28.02 162.41 L27.86 162.01 L27.68 161.62 L27.46 161.25 L27.22 160.89 L26.94 160.56 L26.64 160.25 L26.31 159.96 L25.95 159.70 L25.56 159.46 L25.16 159.23 L24.74 159.01 L24.32 158.79 L23.88 158.57 L23.45 158.33 L23.01 158.09 L22.58 157.82 L22.16 157.54 L21.75 157.26 L21.36 157.00 L20.99 156.79 L20.64 156.63 L20.31 156.56 L20.02 156.58Z" stroke-width="2.5"/>
<path d="M37.59 158.31 L37.92 158.35 L38.26 158.46 L38.59 158.64 L38.93 158.87 L39.26 159.16 L39.58 159.48 L39.88 159.83 L40.15 160.20 L40.40 160.59 L40.62 160.98 L40.81 161.37 L40.97 161.77 L41.10 162.17 L41.21 162.57 L41.30 162.98 L41.37 163.39 L41.42 163.81 L41.45 164.23 L41.47 164.65 L41.48 165.08 L41.48 165.51 L41.47 165.95 L41.45 166.39 L41.41 166.83 L41.36 167.26 L41.28 167.69 L41.19 168.11 L41.06 168.52 L40.92 168.91 L40.74 169.30 L40.52 169.66 L40.27 170.00 L39.99 170.32 L39.67 170.61 L39.33 170.88 L38.97 171.10 L38.60 171.28 L38.23 171.42 L37.86 171.50 L37.51 171.53 L37.18 171.49 L36.87 171.40 L36.58 171.26 L36.31 171.07 L36.06 170.83 L35.83 170.56 L35.62 170.25 L35.42 169.90 L35.25 169.53 L35.09 169.13 L34.94 168.71 L34.82 168.28 L34.71 167.84 L34.62 167.38 L34.54 166.93 L34.48 166.47 L34.43 166.02 L34.40 165.57 L34.38 165.14 L34.38 164.71 L34.39 164.30 L34.42 163.88 L34.47 163.48 L34.53 163.08 L34.61 162.68 L34.71 162.28 L34.83 161.88 L34.96 161.48 L35.11 161.08 L35.29 160.67 L35.48 160.27 L35.69 159.89 L35.91 159.52 L36.15 159.19 L36.41 158.90 L36.69 158.66 L36.97 158.48 L37.28 158.36 L37.59 158.31Z" stroke-width="2.6"/>
<path d="M28.74 166.79L34.38 169.19" stroke-width="1.9"/>
<path d="M18.86 152.76L19.79 156.08L22.93 157.47" stroke-width="1.1"/>
</g>
</g>
</svg>
</body></html>
